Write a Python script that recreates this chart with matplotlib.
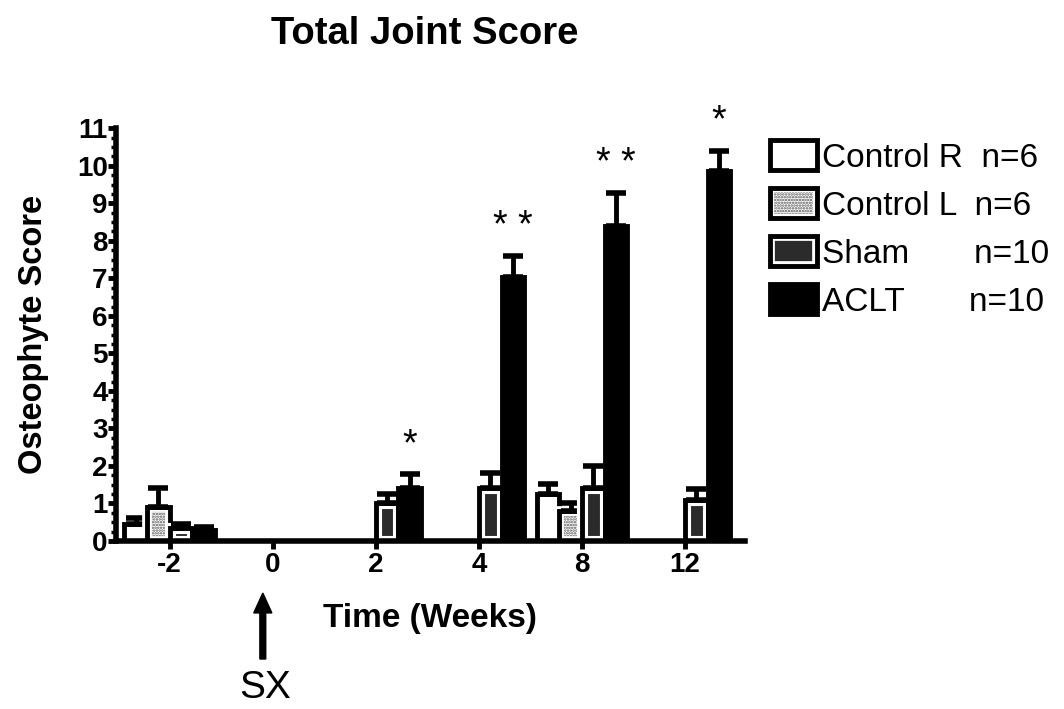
import numpy as np
import matplotlib.pyplot as plt
from matplotlib.patches import Patch, FancyArrow
from matplotlib.ticker import MultipleLocator

plt.rcParams['font.family'] = ['Liberation Sans', 'DejaVu Sans']
plt.rcParams['hatch.linewidth'] = 1.2

# Datos
weeks = ['-2', '0', '2', '4', '8', '12']
control_r = [0.45, 0, 0, 0, 1.25, 0]
control_r_err = [0.15, 0, 0, 0, 0.28, 0]
control_l = [0.9, 0, 0, 0, 0.8, 0]
control_l_err = [0.5, 0, 0, 0, 0.2, 0]
sham = [0.35, 0, 1.0, 1.4, 1.4, 1.1]
sham_err = [0.1, 0, 0.25, 0.42, 0.6, 0.28]
aclt = [0.28, 0, 1.4, 7.05, 8.4, 9.85]
aclt_err = [0.1, 0, 0.38, 0.55, 0.88, 0.55]
stars = ['', '', '*', '* *', '* *', '*']

series = [
    ('Control R  n=6', control_r, control_r_err),
    ('Control L  n=6', control_l, control_l_err),
    ('Sham       n=10', sham, sham_err),
    ('ACLT       n=10', aclt, aclt_err),
]

fig = plt.figure(figsize=(10.64, 7.09), dpi=100)
ax = fig.add_axes([0.109, 0.237, 0.591, 0.582])

x = np.arange(len(weeks))
w = 0.22
offsets = [-1.5, -0.5, 0.5, 1.5]
sham_fill = '#2b2b2b'

for i, (name, vals, errs) in enumerate(series):
    pos = x + offsets[i] * w
    vals = np.array(vals)
    errs = np.array(errs)
    if i == 0:
        ax.bar(pos, vals, w, facecolor='white', edgecolor='black', linewidth=3.5)
    elif i == 1:
        ax.bar(pos, vals, w, facecolor='white', edgecolor='#555555', linewidth=0, hatch='......')
        ax.bar(pos, vals, w, facecolor='none', edgecolor='white', linewidth=7)
        ax.bar(pos, vals, w, facecolor='none', edgecolor='black', linewidth=3.5)
    elif i == 2:
        ax.bar(pos, vals, w, facecolor=sham_fill, edgecolor='white', linewidth=8)
        ax.bar(pos, vals, w, facecolor='none', edgecolor='black', linewidth=3.5)
    else:
        ax.bar(pos, vals, w, facecolor='black', edgecolor='black', linewidth=3.5)
    m = vals > 0
    ax.errorbar(pos[m], vals[m], yerr=[np.zeros(m.sum()), errs[m]], fmt='none',
                ecolor='black', elinewidth=3.5, capsize=7, capthick=4, zorder=1)

# Asteriscos sobre ACLT
for xi, s, v, e in zip(x, stars, aclt, aclt_err):
    if s:
        ax.text(xi + 1.5 * w, v + e + 0.3, s, ha='center', va='bottom',
                fontsize=27, clip_on=False)

ax.set_xlim(-0.52, 5.58)
ax.set_ylim(0, 11)
ax.set_xticks(x)
ax.set_xticklabels(weeks)
ax.yaxis.set_major_locator(MultipleLocator(1))
ax.yaxis.set_minor_locator(MultipleLocator(0.25))
for lab in ax.get_xticklabels() + ax.get_yticklabels():
    lab.set_fontweight('bold')
ax.tick_params(axis='both', which='major', labelsize=20, width=3.5, length=6, direction='out')
ax.tick_params(axis='y', which='major', pad=0)
ax.tick_params(axis='y', which='minor', width=2.5, length=3.5)
ax.tick_params(axis='x', which='major', pad=2)
ax.spines['top'].set_visible(False)
ax.spines['right'].set_visible(False)
ax.spines['left'].set_linewidth(4)
ax.spines['bottom'].set_linewidth(4)

ax.set_xlabel('Time (Weeks)', fontsize=24, fontweight='bold', labelpad=18)
ax.set_ylabel('Osteophyte Score', fontsize=23.5, fontweight='bold', labelpad=20)
fig.text(0.399, 0.952, 'Total Joint Score', ha='center', va='center',
         fontsize=27.5, fontweight='bold')

# Leyenda
h_r = Patch(facecolor='white', edgecolor='black', linewidth=3.5)
h_l = (Patch(facecolor='white', edgecolor='#555555', linewidth=0, hatch='......'),
       Patch(facecolor='none', edgecolor='white', linewidth=6),
       Patch(facecolor='none', edgecolor='black', linewidth=3.5))
h_s = (Patch(facecolor=sham_fill, edgecolor='white', linewidth=7),
       Patch(facecolor='none', edgecolor='black', linewidth=3.5))
h_a = Patch(facecolor='black', edgecolor='black', linewidth=3.5)
fig.legend([h_r, h_l, h_s, h_a], [s[0] for s in series],
           loc='upper left', bbox_to_anchor=(0.724, 0.802), frameon=False,
           fontsize=24, handlelength=1.4, handleheight=1.0, handletextpad=0.15,
           labelspacing=0.44, borderaxespad=0, borderpad=0)

# Flecha de cirugia
fig.patches.append(FancyArrow(
    0.247, 0.0705, 0, 0.093, width=0.0055, head_width=0.017, head_length=0.028,
    color='black', transform=fig.transFigure, length_includes_head=True))
fig.text(0.249, 0.030, 'SX', ha='center', va='center', fontsize=28)

fig.savefig('out.png', dpi=100)
